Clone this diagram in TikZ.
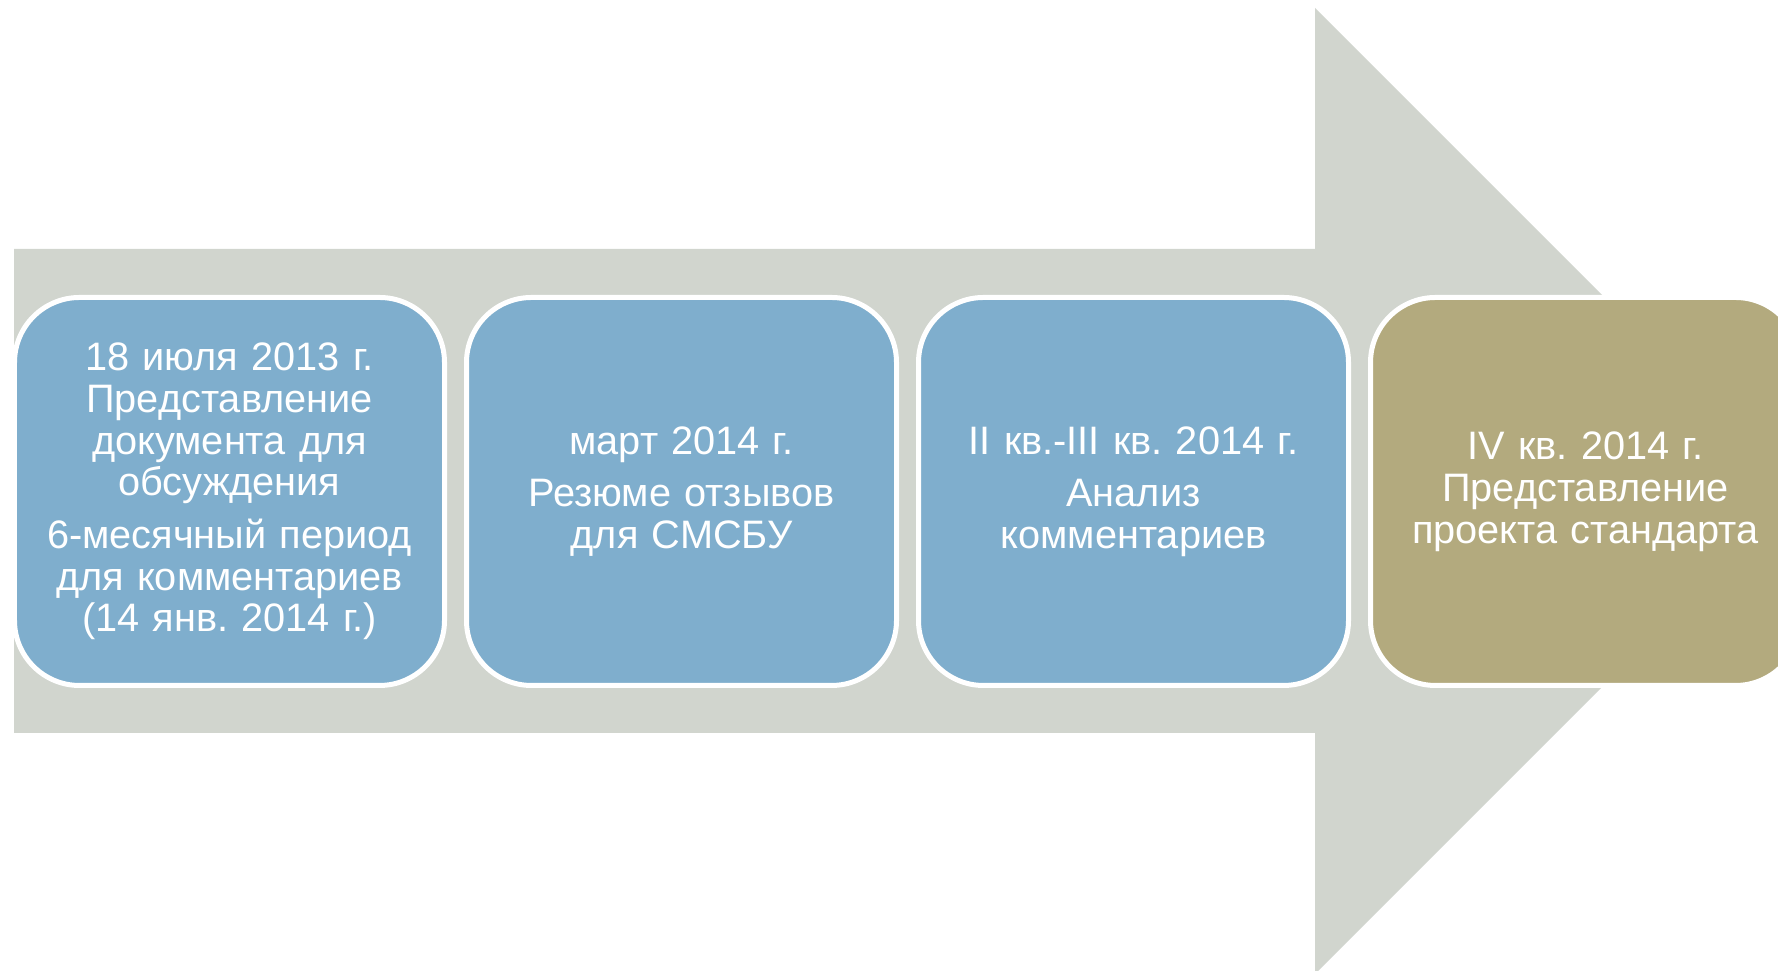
\documentclass[tikz,border=0pt]{standalone}
\usepackage{fontspec}
\setmainfont{Liberation Sans}
\usetikzlibrary{positioning}
\definecolor{arrowgrey}{RGB}{209,213,206}
\definecolor{stageblue}{RGB}{127,174,205}
\definecolor{stagegold}{RGB}{179,170,126}
\tikzset{
	stage/.style={draw=white, line width=0.05cm, fill=stageblue,
		rounded corners=0.65cm, minimum width=4.3cm, minimum height=3.88cm,
		text width=4.1cm, align=center, inner sep=0pt, text=white,
		font=\fontsize{11.3}{11.9}\selectfont\frenchspacing},
	laststage/.style={stage, fill=stagegold}
}

\begin{document}
\begin{tikzpicture}
	% page: 17.78cm x 9.71cm, 1cm = 100px
	\useasboundingbox (0,0) rectangle (17.78,9.71);
	\clip (0,0) rectangle (17.78,9.71);
	% big arrow behind the stages
	\fill[arrowgrey] (0.14,2.38) -- (13.15,2.38) -- (13.15,-0.03) -- (17.98,4.80)
		-- (13.15,9.63) -- (13.15,7.22) -- (0.14,7.22) -- cycle;
	% stages
	\node[stage] (jul) at (2.295,4.795) {18 июля 2013 г.\\ Представление\\ документа для\\ обсуждения\\[3pt] 6-месячный период\\ для комментариев\\ (14 янв. 2014 г.)};
	\node[stage, right=0.17cm of jul] (mar) {март 2014 г.\\[3pt] Резюме отзывов\\ для СМСБУ};
	\node[stage, right=0.17cm of mar] (qtr) {II кв.-III кв. 2014 г.\\[3pt] Анализ\\ комментариев};
	\node[laststage, right=0.17cm of qtr] (draft) {IV кв. 2014 г.\\ Представление\\ проекта стандарта};
\end{tikzpicture}
\end{document}
